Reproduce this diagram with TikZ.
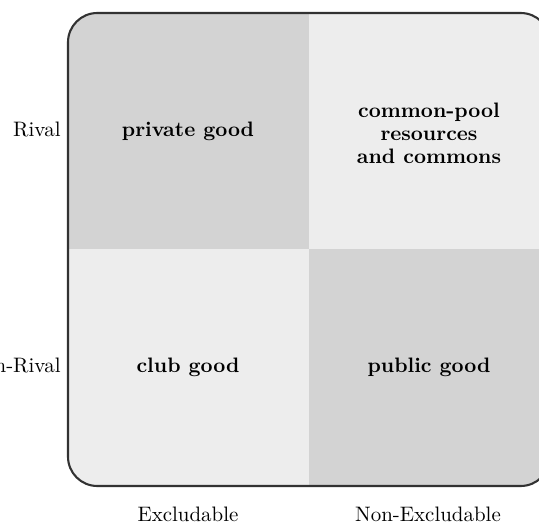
\documentclass[tikz,border=0pt]{standalone}
\usetikzlibrary{positioning}
\definecolor{darkq}{RGB}{211,211,211}
\definecolor{lightq}{RGB}{237,237,237}
\definecolor{edgec}{RGB}{50,50,50}
\tikzset{
  cell/.style={font=\bfseries, align=center, text=black},
  axislabel/.style={font=\normalsize, text=black, inner sep=0pt},
  frame/.style={draw=edgec, line width=1pt, rounded corners=14pt}
}
\begin{document}
\begin{tikzpicture}[x=0.478pt,y=-0.478pt]
\useasboundingbox (0,0) rectangle (539,525);
\begin{scope}
  \clip[rounded corners=14pt] (68,13) rectangle (550,486);
  \fill[darkq]  (68,13)   rectangle (309,249);
  \fill[lightq] (309,13)  rectangle (550,249);
  \fill[lightq] (68,249)  rectangle (309,486);
  \fill[darkq]  (309,249) rectangle (550,486);
\end{scope}
\draw[frame] (68,13) rectangle (550,486);

\node[cell] (pg) at (188,131) {private good};
\node[cell, align=center] (cp) at (429,133) {common-pool\\[-1pt]resources\\[-1pt]and commons};
\node[cell] (cg) at (188,367) {club good};
\node[cell] (pu) at (429,367) {public good};

\node[axislabel, anchor=base east] (rv) at (61,137) {Rival};
\node[axislabel, anchor=base east] (nr) at (61,373) {Non-Rival};
\node[axislabel, anchor=base] (ex) at (188,522) {Excludable};
\node[axislabel, anchor=base] (ne) at (428,522) {Non-Excludable};
\end{tikzpicture}
\end{document}
